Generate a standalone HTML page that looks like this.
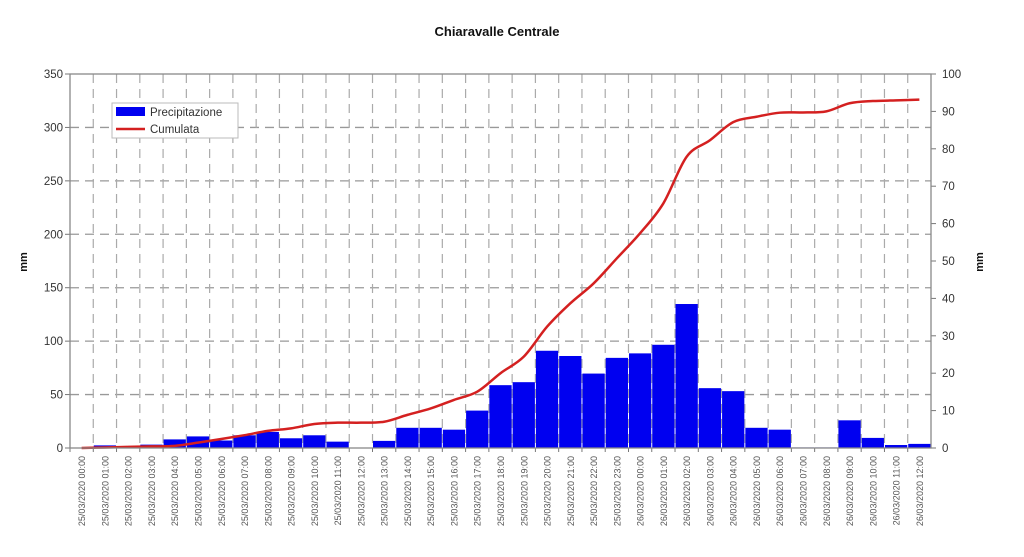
<!DOCTYPE html>
<html><head><meta charset="utf-8"><style>
html,body{margin:0;padding:0;background:#fff;}
svg{display:block;font-family:"Liberation Sans",Arial,sans-serif;}
</style></head><body>
<svg id="chart" width="1024" height="557" viewBox="0 0 1024 557">
<text x="497" y="36" text-anchor="middle" font-size="13" font-weight="bold" fill="#111">Chiaravalle Centrale</text>
<text transform="translate(27,262) rotate(-90)" text-anchor="middle" font-size="11" font-weight="bold" fill="#111">mm</text>
<text transform="translate(983,262) rotate(-90)" text-anchor="middle" font-size="11" font-weight="bold" fill="#111">mm</text>
<g id="grid"></g>
<g id="bars"></g>
<g id="line"></g>
<g id="axes"></g>
<g>
<rect x="112" y="103" width="126" height="35" fill="#fff" stroke="#bbb" stroke-width="1"/>
<rect x="116" y="107" width="29" height="9" fill="#0000f0"/>
<text x="150" y="116" font-size="11.5" fill="#333">Precipitazione</text>
<line x1="116" y1="129" x2="145" y2="129" stroke="#d42020" stroke-width="2.5"/>
<text x="150" y="133" font-size="11.5" fill="#333">Cumulata</text>
</g>
</svg>
<script>
const categories = ["25/03/2020 00:00","25/03/2020 01:00","25/03/2020 02:00","25/03/2020 03:00","25/03/2020 04:00","25/03/2020 05:00","25/03/2020 06:00","25/03/2020 07:00","25/03/2020 08:00","25/03/2020 09:00","25/03/2020 10:00","25/03/2020 11:00","25/03/2020 12:00","25/03/2020 13:00","25/03/2020 14:00","25/03/2020 15:00","25/03/2020 16:00","25/03/2020 17:00","25/03/2020 18:00","25/03/2020 19:00","25/03/2020 20:00","25/03/2020 21:00","25/03/2020 22:00","25/03/2020 23:00","26/03/2020 00:00","26/03/2020 01:00","26/03/2020 02:00","26/03/2020 03:00","26/03/2020 04:00","26/03/2020 05:00","26/03/2020 06:00","26/03/2020 07:00","26/03/2020 08:00","26/03/2020 09:00","26/03/2020 10:00","26/03/2020 11:00","26/03/2020 12:00"];
const precipitazione = [0,0.7,0,0.9,2.3,3.1,2.0,3.4,4.3,2.6,3.4,1.7,0,1.9,5.4,5.4,4.9,10,16.8,17.6,26,24.6,19.9,24.1,25.3,27.6,38.5,16,15.2,5.4,4.9,0.15,0.15,7.4,2.7,0.8,1.1];
const cumulata = [0,0.5,1,1.5,2,5,8.4,12,16,18.4,22.5,23.7,23.7,24.6,31,37,45,52.7,70,85.5,113.5,135.4,154,177.5,201,229,272.6,288,305,310,313.8,314,315,322.6,324.7,325.3,326];
const leftTicks = [0,50,100,150,200,250,300,350];
const rightTicks = [0,10,20,30,40,50,60,70,80,90,100];

const NS="http://www.w3.org/2000/svg";
const X0=70,X1=931,Y0=448,Y1=74;
const bw=(X1-X0)/categories.length;
const yL=v=>Y0-(v/350)*(Y0-Y1);
const yR=v=>Y0-(v/100)*(Y0-Y1);
const xc=i=>X0+bw*(i+0.5);
function mk(tag,attrs,parent){const e=document.createElementNS(NS,tag);for(const k in attrs)e.setAttribute(k,attrs[k]);parent.appendChild(e);return e;}
const grid=document.getElementById('grid'),bars=document.getElementById('bars'),line=document.getElementById('line'),axes=document.getElementById('axes');
leftTicks.forEach(t=>{
  if(t>0&&t<350){const g=mk('line',{x1:X0,x2:X1,y1:yL(t),y2:yL(t),stroke:'#999','stroke-width':1.3,'stroke-dasharray':'9,6'},grid);
  
  }
  mk('line',{x1:X0-5,x2:X0,y1:yL(t),y2:yL(t),stroke:'#777'},axes);
  const tx=mk('text',{x:X0-7,y:yL(t)+4,'text-anchor':'end','font-size':11.5,fill:'#333'},axes);tx.textContent=t;
  
  
});
rightTicks.forEach(t=>{
  mk('line',{x1:X1,x2:X1+5,y1:yR(t),y2:yR(t),stroke:'#777'},axes);
  const tx=mk('text',{x:X1+11,y:yR(t)+4,'font-size':11.5,fill:'#333'},axes);tx.textContent=t;
  
  
});
categories.forEach((c,i)=>{
  if(i>0){const g=mk('line',{x1:X0+bw*i,x2:X0+bw*i,y1:Y1,y2:Y0,stroke:'#aaa','stroke-width':1.2,'stroke-dasharray':'9,6'},grid);
  
  }
  mk('line',{x1:X0+bw*i,x2:X0+bw*i,y1:Y0,y2:Y0+4,stroke:'#777'},axes);
  const v=precipitazione[i];
  if(v>0){const r=mk('rect',{x:X0+bw*i+0.5,y:yR(v),width:bw-1,height:Y0-yR(v),fill:'#0000f0'},bars);
  
  }
  const tx=mk('text',{transform:`translate(${xc(i)+3.5},456) rotate(-90)`,'text-anchor':'end','font-size':9,fill:'#555'},axes);tx.textContent=c;
  
  
});
// smooth line (Catmull-Rom)
const pts=cumulata.map((v,i)=>[xc(i),yL(v)]);
let d=`M${pts[0][0]},${pts[0][1]}`;
for(let i=0;i<pts.length-1;i++){const p0=pts[Math.max(0,i-1)],p1=pts[i],p2=pts[i+1],p3=pts[Math.min(pts.length-1,i+2)];
 d+=` C${p1[0]+(p2[0]-p0[0])/6},${p1[1]+(p2[1]-p0[1])/6} ${p2[0]-(p3[0]-p1[0])/6},${p2[1]-(p3[1]-p1[1])/6} ${p2[0]},${p2[1]}`;}
const pl=mk('path',{d:d,fill:'none',stroke:'#d42020','stroke-width':2.5,'stroke-linejoin':'round'},line);


const fr=mk('rect',{x:X0,y:Y1,width:X1-X0,height:Y0-Y1,fill:'none',stroke:'#888','stroke-width':1.3},axes);


</script>
</body></html>
